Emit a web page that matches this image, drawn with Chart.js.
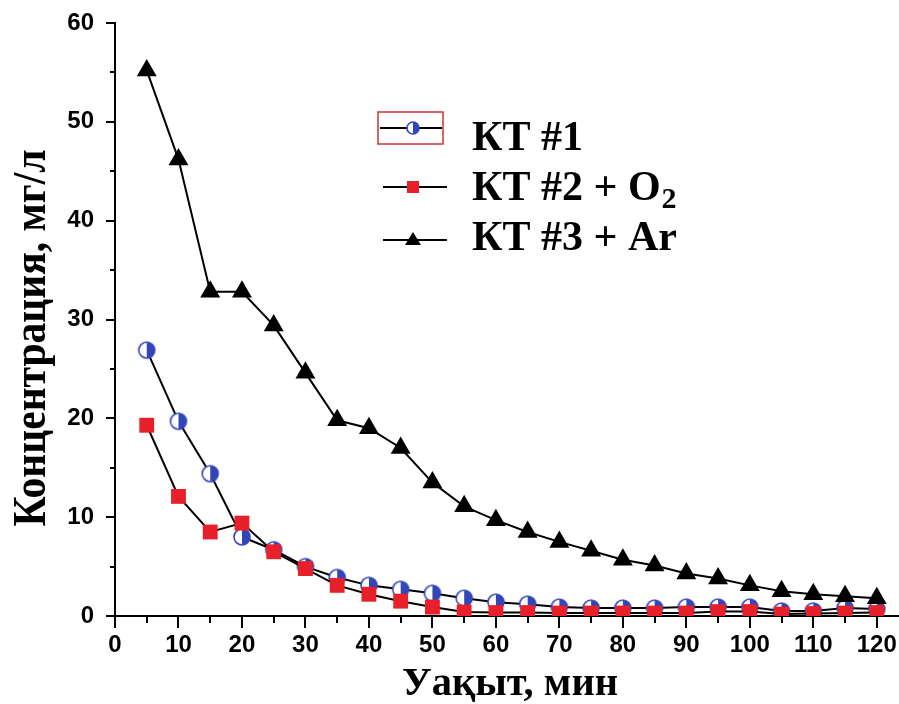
<!DOCTYPE html>
<html>
<head>
<meta charset="utf-8">
<script src="https://cdn.jsdelivr.net/npm/chart.js@4/dist/chart.umd.min.js"></script>
<style>
  html, body { margin: 0; padding: 0; background: #fff; }
</style>
</head>
<body>
<canvas id="chart" width="899" height="704"></canvas>
<script>
// Sampling times, minutes
var times = [5, 10, 15, 20, 25, 30, 35, 40, 45, 50, 55, 60, 65, 70, 75, 80, 85, 90, 95, 100, 105, 110, 115, 120];
// Concentration, mg/l
var kt1 = [26.9, 19.7, 14.4, 8.0, 6.7, 5.0, 3.9, 3.1, 2.7, 2.3, 1.8, 1.4, 1.2, 0.9, 0.8, 0.8, 0.8, 0.9, 0.9, 0.9, 0.5, 0.5, 0.8, 0.7];
var kt2 = [19.3, 12.1, 8.5, 9.4, 6.5, 4.8, 3.1, 2.2, 1.5, 0.9, 0.4, 0.35, 0.35, 0.3, 0.3, 0.3, 0.3, 0.3, 0.45, 0.45, 0.2, 0.25, 0.3, 0.35];
var kt3 = [55.2, 46.2, 32.8, 32.8, 29.4, 24.6, 19.8, 19.0, 17.0, 13.5, 11.1, 9.7, 8.5, 7.5, 6.6, 5.7, 5.1, 4.3, 3.8, 3.1, 2.5, 2.2, 2.0, 1.8];

var seriesNames = ['КТ #1', 'КТ #2 + O', 'КТ #3 + Ar'];
var xTitle = 'Уақыт, мин';
var yTitle = 'Концентрация, мг/л';

var blue = '#3346b8';
var red = '#e8202a';
var serif = '"Liberation Serif", "DejaVu Serif", serif';
var tickFont = { family: '"Liberation Sans", Arial, sans-serif', size: 24, weight: 'bold' };

function toPoints(vals) {
  return vals.map(function(v, i) { return {x: times[i], y: v}; });
}

// half filled circle (left white, right blue), like the Origin symbol
function halfCircle(r) {
  var c = document.createElement('canvas');
  var s = Math.ceil(r * 2 + 4);
  c.width = s; c.height = s;
  var g = c.getContext('2d');
  var m = s / 2;
  g.beginPath(); g.arc(m, m, r, 0, Math.PI * 2); g.fillStyle = '#fff'; g.fill();
  g.beginPath(); g.moveTo(m, m - r); g.arc(m, m, r, -Math.PI / 2, Math.PI / 2); g.closePath();
  g.fillStyle = blue; g.fill();
  g.beginPath(); g.arc(m, m, r, 0, Math.PI * 2); g.lineWidth = 1.6; g.strokeStyle = blue; g.stroke();
  return c;
}

var circleBig = halfCircle(8);
var circleSmall = halfCircle(6);

// draw text squeezed/stretched to a given length
function fitText(ctx, text, x, y, len) {
  var w = ctx.measureText(text).width;
  ctx.save();
  ctx.translate(x, y);
  ctx.scale(len / w, 1);
  ctx.fillText(text, 0, 0);
  ctx.restore();
}

// titles and legend drawn on the canvas
var decorPlugin = {
  id: 'decor',
  afterDraw: function(chart) {
    var ctx = chart.ctx;
    ctx.save();
    ctx.fillStyle = '#000';
    ctx.textAlign = 'center';
    ctx.textBaseline = 'alphabetic';

    ctx.font = 'bold 40px ' + serif;
    fitText(ctx, xTitle, 510, 695, 216);

    ctx.save();
    ctx.translate(45, 338);
    ctx.rotate(-Math.PI / 2);
    ctx.font = 'bold 46px ' + serif;
    fitText(ctx, yTitle, 0, 0, 377);
    ctx.restore();

    // legend
    var lines = [[380, 442, 128], [383, 447, 187], [383, 447, 240]];
    var base = [150, 200, 250];
    var tx = 472;
    ctx.lineWidth = 2;
    ctx.strokeStyle = '#000';
    for (var i = 0; i < 3; i++) {
      var L = lines[i], y = L[2];
      ctx.beginPath(); ctx.moveTo(L[0], y); ctx.lineTo(L[1], y); ctx.stroke();
      var mx = 413;
      if (i === 0) {
        ctx.drawImage(circleSmall, mx - circleSmall.width / 2, y - circleSmall.height / 2);
        ctx.save();
        ctx.strokeStyle = '#c0393b'; ctx.lineWidth = 1.5;
        ctx.strokeRect(378, 112, 65, 32);
        ctx.restore();
      } else if (i === 1) {
        ctx.fillStyle = red; ctx.fillRect(mx - 6, y - 6, 12, 12);
      } else {
        ctx.fillStyle = '#000';
        ctx.beginPath(); ctx.moveTo(mx, y - 8); ctx.lineTo(mx + 8, y + 5); ctx.lineTo(mx - 8, y + 5); ctx.closePath(); ctx.fill();
      }
      ctx.fillStyle = '#000';
      ctx.textAlign = 'left';
      ctx.font = 'bold 42px ' + serif;
      ctx.fillText(seriesNames[i], tx, base[i]);
      if (i === 1) {
        var w = ctx.measureText(seriesNames[i]).width;
        ctx.font = 'bold 30px ' + serif;
        ctx.fillText('2', tx + w + 1, base[i] + 8);
      }
    }
    ctx.restore();
  }
};

var axisColor = '#000';

new Chart('chart', {
  type: 'line',
  data: {
    datasets: [
      {
        label: seriesNames[0],
        data: toPoints(kt1),
        xAxisID: 'x', yAxisID: 'y',
        borderColor: '#000', borderWidth: 2,
        pointStyle: circleBig,
        order: 3
      },
      {
        label: seriesNames[1] + '₂',
        data: toPoints(kt2),
        xAxisID: 'x', yAxisID: 'y',
        borderColor: '#000', borderWidth: 2,
        pointStyle: 'rect', pointRadius: 10.5,
        pointBackgroundColor: red, pointBorderColor: red, pointBorderWidth: 0,
        order: 2
      },
      {
        label: seriesNames[2],
        data: toPoints(kt3),
        xAxisID: 'x', yAxisID: 'y',
        borderColor: '#000', borderWidth: 2,
        pointStyle: 'triangle', pointRadius: 11.5,
        pointBackgroundColor: '#000', pointBorderColor: '#000', pointBorderWidth: 0,
        order: 1
      }
    ]
  },
  options: {
    responsive: false,
    animation: false,
    layout: { autoPadding: false, padding: { top: 23, right: 0, left: 0, bottom: 0 } },
    plugins: { legend: { display: false }, tooltip: { enabled: false } },
    scales: {
      x: {
        type: 'linear', min: 0, max: 123.5, position: 'bottom',
        afterFit: function(s) { s.height = 88; s.paddingLeft = 0; s.paddingRight = 0; },
        ticks: {
          stepSize: 10, includeBounds: false, autoSkip: false, maxRotation: 0,
          color: '#000', padding: 3, font: tickFont
        },
        grid: { drawOnChartArea: false, tickLength: 12, color: axisColor, lineWidth: 2 },
        border: { color: axisColor, width: 2 }
      },
      xMinor: {
        type: 'linear', min: 0, max: 123.5, position: 'bottom', weight: -1,
        afterFit: function(s) { s.height = 0; s.paddingLeft = 0; s.paddingRight = 0; },
        ticks: { stepSize: 5, includeBounds: false, autoSkip: false, display: false },
        grid: { drawOnChartArea: false, tickLength: 7, color: axisColor, lineWidth: 2 },
        border: { display: false }
      },
      y: {
        min: 0, max: 60, position: 'left',
        afterFit: function(s) { s.width = 115; s.paddingTop = 0; s.paddingBottom = 0; },
        ticks: { stepSize: 10, color: '#000', padding: 12, font: tickFont },
        grid: { drawOnChartArea: false, tickLength: 9, color: axisColor, lineWidth: 2 },
        border: { color: axisColor, width: 2 }
      },
      yMinor: {
        min: 0, max: 60, position: 'left', weight: -1,
        afterFit: function(s) { s.width = 0; s.paddingTop = 0; s.paddingBottom = 0; },
        ticks: { stepSize: 5, display: false },
        grid: { drawOnChartArea: false, tickLength: 5, color: axisColor, lineWidth: 2 },
        border: { display: false }
      }
    }
  },
  plugins: [decorPlugin]
});
</script>
</body>
</html>
